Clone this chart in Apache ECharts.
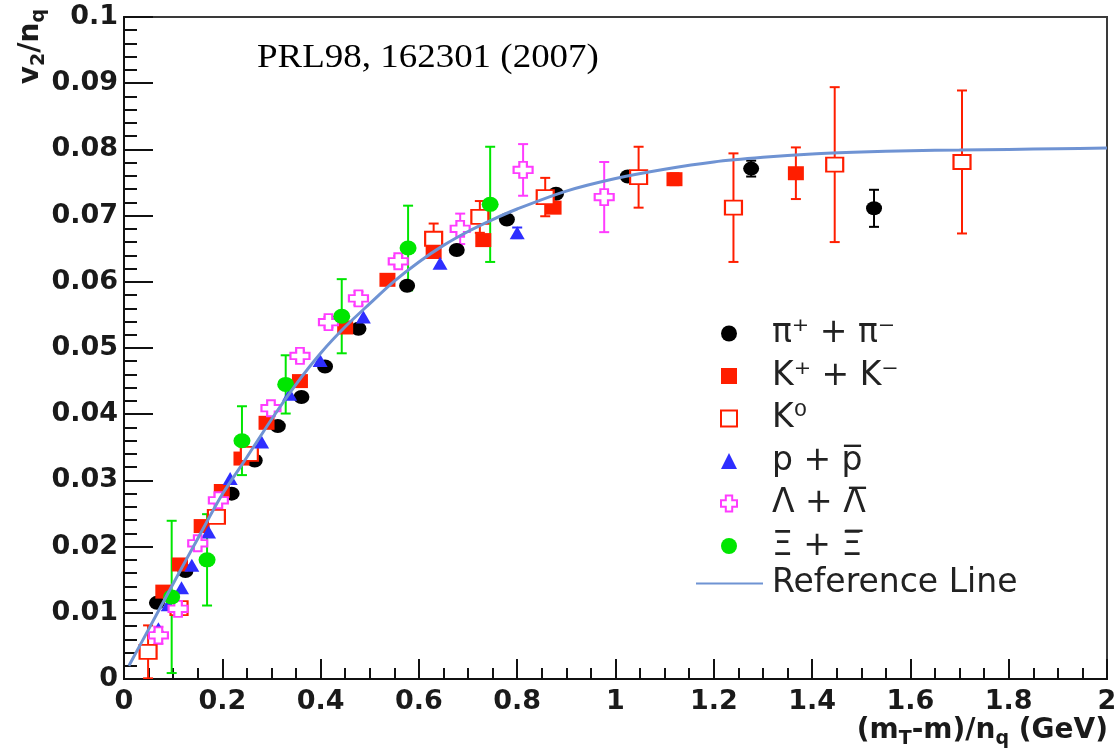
<!DOCTYPE html>
<html>
<head>
<meta charset="utf-8">
<script src="https://cdn.jsdelivr.net/npm/echarts@6.0.0/dist/echarts.min.js"></script>
<style>html,body{margin:0;padding:0;background:#fff;}#main{width:1120px;height:752px;}</style>
</head>
<body>
<div id="main"></div>
<script>
// ---- data: [x, y, error] ----
const piData = [[0.067,0.0115,0],[0.125,0.0163,0],[0.219,0.0280,0],[0.266,0.0330,0],[0.313,0.0382,0],[0.361,0.0426,0],[0.409,0.0472,0],[0.477,0.0529,0],[0.576,0.0594,0],[0.677,0.0648,0],[0.779,0.0694,0],[0.879,0.0733,0],[1.025,0.0759,0],[1.276,0.0771,0.0012],[1.526,0.0711,0.0028]];
const kData = [[0.080,0.0132,0],[0.114,0.0173,0],[0.158,0.0231,0],[0.199,0.0284,0],[0.239,0.0333,0],[0.290,0.0387,0],[0.358,0.0450,0],[0.450,0.0531,0],[0.536,0.0603,0],[0.630,0.0645,0],[0.731,0.0663,0],[0.874,0.0712,0],[1.120,0.0755,0.0009],[1.367,0.0764,0.0039]];
const k0Data = [[0.049,0.0041,0.0040],[0.112,0.0107,0],[0.188,0.0245,0],[0.255,0.0340,0],[0.630,0.0665,0.0023],[0.724,0.0698,0.0024],[0.857,0.0728,0.0029],[1.047,0.0758,0.0046],[1.240,0.0712,0.0082],[1.446,0.0777,0.0117],[1.705,0.0781,0.0108]];
const pData = [[0.070,0.0076,0],[0.090,0.0112,0],[0.117,0.0138,0],[0.138,0.0172,0],[0.172,0.0222,0],[0.216,0.0303,0],[0.280,0.0358,0],[0.337,0.0430,0],[0.399,0.0481,0],[0.487,0.0547,0],[0.643,0.0628,0],[0.800,0.0674,0.0008]];
const lamData = [[0.070,0.0066,0.0013],[0.110,0.0106,0],[0.150,0.0205,0],[0.192,0.0270,0],[0.299,0.0409,0],[0.358,0.0488,0.0008],[0.416,0.0539,0.0008],[0.477,0.0575,0.0010],[0.558,0.0631,0.0008],[0.684,0.0680,0.0023],[0.812,0.0769,0.0039],[0.977,0.0728,0.0053]];
const xiData = [[0.097,0.0124,0.0115],[0.169,0.0180,0.0069],[0.240,0.0360,0.0052],[0.329,0.0445,0.0044],[0.443,0.0548,0.0056],[0.578,0.0651,0.0064],[0.745,0.0717,0.0087]];
const refX = [0.01,0.05,0.10,0.15,0.20,0.25,0.30,0.35,0.40,0.45,0.50,0.55,0.60,0.65,0.70,0.75,0.80,0.90,1.00,1.10,1.20,1.30,1.40,1.50,1.60,1.70,1.80,1.90,2.00];
const refY = [0.0020,0.0075,0.0144,0.0212,0.0279,0.0335,0.0392,0.0445,0.0492,0.0532,0.0567,0.0601,0.0630,0.0655,0.0676,0.0694,0.0710,0.0737,0.0756,0.0770,0.0781,0.0788,0.0793,0.0796,0.0798,0.0799,0.0800,0.0801,0.0802];
const seriesNames = ['pi','K','K0','p','Lambda','Xi'];
const legendLabels = {pi:'\u03c0\u207a + \u03c0\u207b', K:'K\u207a + K\u207b', K0:'K\u2070', p:'p + p\u0305', Lambda:'\u039b + \u039b\u0305', Xi:'\u039e + \u039e\u0305'};
const refName = 'Reference Line';
const annotation = 'PRL98, 162301 (2007)';

const RED = '#ff1e00', BLUE = '#2e2eff', MAG = '#ff3cff', GREEN = '#00e600', LINEC = '#6f93d3';
const crossPath = 'path://M3,0 L7,0 L7,3 L10,3 L10,7 L7,7 L7,10 L3,10 L3,7 L0,7 L0,3 L3,3 Z';

function errSeries(name, data, color) {
  return {
    type: 'custom', name: name + '_err', data: data, z: 2, silent: true, clip: true,
    encode: {x: 0, y: 1},
    renderItem: function (params, api) {
      const e = api.value(2);
      if (!(e > 0)) return null;
      const x = api.value(0), y = api.value(1);
      const top = api.coord([x, y + e]), bot = api.coord([x, y - e]);
      const cw = 5;
      const st = {stroke: color, lineWidth: 2};
      return {type: 'group', children: [
        {type: 'line', shape: {x1: top[0], y1: top[1], x2: bot[0], y2: bot[1]}, style: st},
        {type: 'line', shape: {x1: top[0]-cw, y1: top[1], x2: top[0]+cw, y2: top[1]}, style: st},
        {type: 'line', shape: {x1: bot[0]-cw, y1: bot[1], x2: bot[0]+cw, y2: bot[1]}, style: st}
      ]};
    }
  };
}
function scat(name, data, symbol, size, itemStyle) {
  return {type: 'scatter', name: name, data: data, encode: {x: 0, y: 1}, symbol: symbol, symbolSize: size,
          itemStyle: Object.assign({opacity: 1}, itemStyle), z: 3};
}

const chart = echarts.init(document.getElementById('main'), null, {renderer: 'canvas'});
const lblFont = {fontFamily: 'DejaVu Sans', fontWeight: 'bold', color: '#1a1a1a'};
chart.setOption({
  animation: false,
  backgroundColor: '#fff',
  grid: {left: 124, right: 13, top: 17, bottom: 73, show: true, borderColor: '#3a3a3a', borderWidth: 2, backgroundColor: 'transparent'},
  xAxis: {
    type: 'value', min: 0, max: 2, interval: 0.2,
    axisLine: {lineStyle: {color: '#111', width: 2}},
    axisTick: {inside: true, length: 20, lineStyle: {color: '#111', width: 2}},
    minorTick: {show: true, splitNumber: 4, length: 11, lineStyle: {color: '#111', width: 2}},
    splitLine: {show: false},
    axisLabel: Object.assign({fontSize: 27, margin: 9, formatter: v => String(+v.toFixed(1))}, lblFont)
  },
  yAxis: {
    type: 'value', min: 0, max: 0.1, interval: 0.01,
    axisLine: {lineStyle: {color: '#111', width: 2}},
    axisTick: {inside: true, length: 29, lineStyle: {color: '#111', width: 2}},
    minorTick: {show: true, splitNumber: 5, length: 13, lineStyle: {color: '#111', width: 2}},
    splitLine: {show: false},
    axisLabel: Object.assign({fontSize: 27, margin: 6, formatter: v => String(+v.toFixed(2))}, lblFont)
  },
  legend: [{
    orient: 'vertical', left: 715, top: 312, itemWidth: 16, itemHeight: 16, itemGap: 9.5,
    selectedMode: false,
    data: [
      {name: 'pi'}, {name: 'K'},
      {name: 'K0', itemStyle: {color: '#fff', borderColor: RED, borderWidth: 2}},
      {name: 'p'},
      {name: 'Lambda', itemStyle: {color: '#fff', borderColor: MAG, borderWidth: 2}},
      {name: 'Xi'}
    ],
    formatter: n => legendLabels[n],
    textStyle: {fontFamily: 'DejaVu Sans', fontSize: 33, lineHeight: 32, color: '#222', padding: [0, 0, 0, 30]}
  }, {
    orient: 'vertical', left: 690, top: 562, itemWidth: 67, itemHeight: 4,
    selectedMode: false,
    data: [{name: refName, itemStyle: {opacity: 0}}],
    textStyle: {fontFamily: 'DejaVu Sans', fontSize: 33, lineHeight: 32, color: '#222', padding: [0, 0, 0, 4]}
  }],
  graphic: [
    {type: 'text', x: 257, y: 58, scaleX: 1.12, z: 10,
     style: {x: 0, y: 0, text: annotation, fontFamily: 'Liberation Serif', fontSize: 33, fill: '#000', align: 'left', verticalAlign: 'middle'}},
    {type: 'text', x: 1108, y: 731, z: 10,
     style: {x: 0, y: 0, text: '{a|(m}{b|T}{a|-m)/n}{b|q}{a| (GeV)}', align: 'right', verticalAlign: 'middle',
       rich: {a: {fontFamily: 'DejaVu Sans', fontWeight: 'bold', fontSize: 28, fill: '#1a1a1a'},
              b: {fontFamily: 'DejaVu Sans', fontWeight: 'bold', fontSize: 19, fill: '#1a1a1a', padding: [16, 0, 0, 0]}}}},
    {type: 'text', x: 31, y: 9, rotation: Math.PI / 2, z: 10,
     style: {x: 0, y: 0, text: '{a|v}{b|2}{a|/n}{b|q}', align: 'right', verticalAlign: 'middle',
       rich: {a: {fontFamily: 'DejaVu Sans', fontWeight: 'bold', fontSize: 28, fill: '#1a1a1a'},
              b: {fontFamily: 'DejaVu Sans', fontWeight: 'bold', fontSize: 19, fill: '#1a1a1a', padding: [16, 0, 0, 0]}}}}
  ],
  series: [
    errSeries('pi', piData, '#000'),
    errSeries('K', kData, RED),
    errSeries('K0', k0Data, RED),
    errSeries('p', pData, BLUE),
    errSeries('Lambda', lamData, MAG),
    errSeries('Xi', xiData, GREEN),
    scat('pi', piData, 'circle', [16, 14], {color: '#000'}),
    scat('K', kData, 'rect', [16, 14], {color: RED}),
    scat('K0', k0Data, 'rect', [17, 14], {color: '#fff', borderColor: RED, borderWidth: 2}),
    scat('p', pData, 'triangle', [15, 13], {color: BLUE}),
    scat('Lambda', lamData, crossPath, [19, 16], {color: '#fff', borderColor: MAG, borderWidth: 2}),
    scat('Xi', xiData, 'circle', [17, 15], {color: GREEN}),
    {type: 'line', name: refName, data: refX.map((x, i) => [x, refY[i]]), smooth: 0.3, showSymbol: false, symbol: 'none',
     lineStyle: {color: LINEC, width: 3}, itemStyle: {color: LINEC}, z: 5, silent: true}
  ]
});
</script>
</body>
</html>
